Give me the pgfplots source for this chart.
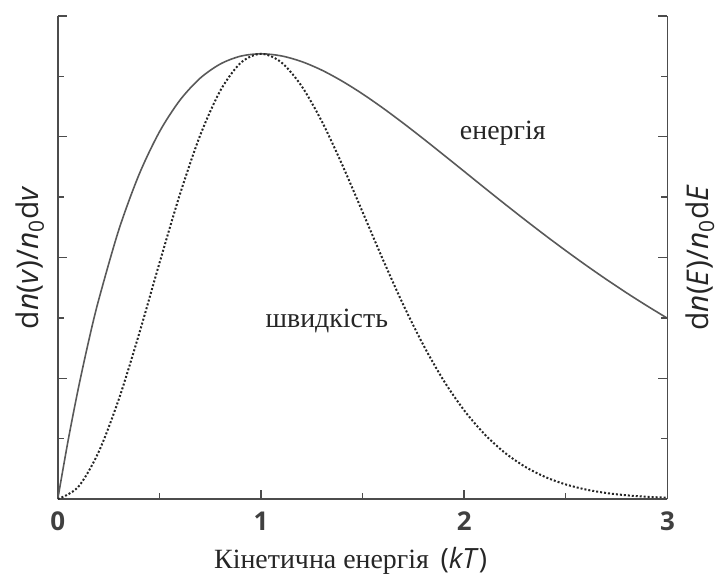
\documentclass[border=0pt]{standalone}
\usepackage{pgfplots}
\pgfplotsset{compat=1.18}
\usepackage{fontspec}
\setmainfont{Liberation Serif}
\setsansfont{Open Sans}
\begin{document}
\begin{tikzpicture}
\pgfplotsset{
  common/.style={
    scale only axis, width=306pt, height=242.5pt,
    xmin=0, xmax=3, ymin=0, ymax=1.085,
    tick align=inside,
    major tick length=4.5pt, minor tick length=3pt,
    every tick/.style={black!70, line width=0.7pt},
    axis line style={black!70, line width=0.8pt},
    ytick={0,0.27125,0.5425,0.81375,1.085},
    minor y tick num=1,
    yticklabels={},
  }
}
\begin{axis}[common, name=ax,
  axis x line*=bottom, axis y line*=left,
  xtick={0,1,2,3}, minor x tick num=1,
  xticklabel style={font=\sffamily\fontsize{13}{15}\selectfont\bfseries, text=black!75, yshift=-3pt},
  /pgf/number format/assume math mode=true,
  xlabel={Кінетична енергія \,{\sffamily(\textit{kT})}},
  every axis x label/.style={at={(rel axis cs:0.4804,0)}, anchor=center, yshift=-31pt,
     font=\fontsize{14}{16}\selectfont, text=black!85},
]
\addplot[black!65, line width=0.8pt, smooth] coordinates {
(0,0) (0.05,0.1293) (0.1,0.2460) (0.15,0.3509) (0.2,0.4451) (0.3,0.6041) (0.4,0.7288)
(0.5,0.8244) (0.6,0.8951) (0.7,0.9449) (0.8,0.9771) (0.9,0.9947) (1.0,1.0)
(1.1,0.9953) (1.2,0.9825) (1.3,0.9631) (1.4,0.9384) (1.5,0.9098) (1.6,0.8781)
(1.7,0.8442) (1.8,0.8088) (1.9,0.7725) (2.0,0.7358) (2.1,0.6990) (2.2,0.6626)
(2.3,0.6268) (2.4,0.5918) (2.5,0.5578) (2.6,0.5249) (2.7,0.4932) (2.8,0.4628)
(2.9,0.4338) (3.0,0.4060)};
\addplot[black!85, line width=1pt, densely dotted, smooth] coordinates {
(0,0) (0.1,0.0269) (0.2,0.1045) (0.3,0.2236) (0.4,0.3706) (0.5,0.5293)
(0.6,0.6827) (0.7,0.8160) (0.8,0.9173) (0.9,0.9795) (1.0,1.0) (1.1,0.9808)
(1.2,0.9274) (1.3,0.8477) (1.4,0.7505) (1.5,0.6446) (1.6,0.5379) (1.7,0.4366)
(1.8,0.3450) (1.9,0.2654) (2.0,0.1991) (2.1,0.1457) (2.2,0.1040) (2.3,0.0725)
(2.4,0.0493) (2.5,0.0328) (2.6,0.0213) (2.7,0.0135) (2.8,0.0084) (2.9,0.0051)
(3.0,0.0030)};
\node[font=\fontsize{14}{16}\selectfont, text=black!85] at (axis cs:2.19,0.821) {енергія};
\node[font=\fontsize{14}{16}\selectfont, text=black!85] at (axis cs:1.324,0.40) {швидкість};
\end{axis}
\begin{axis}[common,
  axis x line=none, axis y line*=right,
  xtick=\empty,
]
\end{axis}
\node[rotate=90, font=\sffamily\fontsize{15}{17}\selectfont, text=black!85] at ([xshift=-14pt]ax.west)
  {d\textit{n}(\textit{v})/\textit{n}\textsubscript{0}d\textit{v}};
\node[rotate=90, font=\sffamily\fontsize{15}{17}\selectfont, text=black!85] at ([xshift=16.5pt]ax.east)
  {d\textit{n}(\textit{E})/\textit{n}\textsubscript{0}d\textit{E}};
\path ([shift={(-29pt,-40pt)}]ax.south west) rectangle ([shift={(25.5pt,8pt)}]ax.north east);
\end{tikzpicture}
\end{document}
